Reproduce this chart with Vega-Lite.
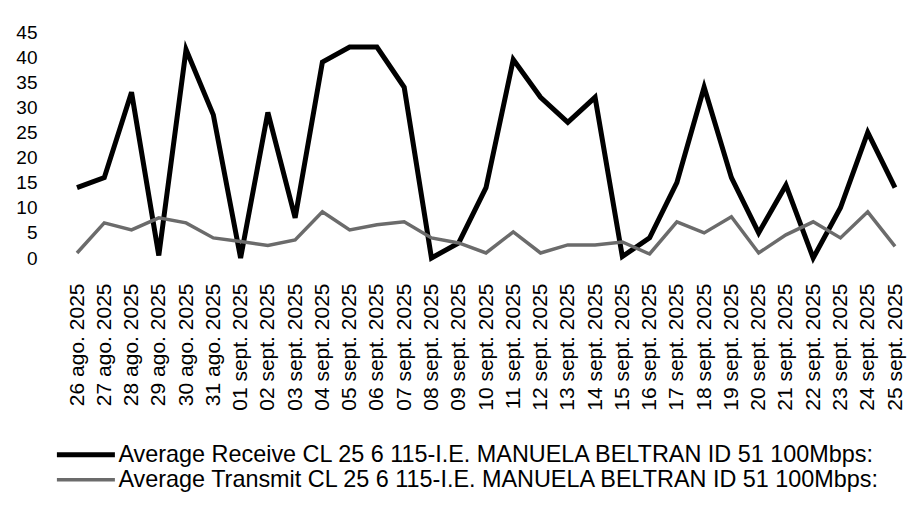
{
  "$schema": "https://vega.github.io/schema/vega-lite/v6.json",
  "autosize": "none",
  "width": 818,
  "height": 226,
  "padding": {"left": 77, "top": 32, "right": 17, "bottom": 248},
  "background": "white",
  "config": {
    "view": {"stroke": null},
    "font": "Liberation Sans",
    "axis": {"labelFont": "Liberation Sans", "labelColor": "#000"},
    "legend": {"labelFont": "Liberation Sans", "labelColor": "#000"}
  },
  "datasets": {
    "d": [
      {"date": "26 ago. 2025", "series": "Average Receive CL 25 6 115-I.E. MANUELA BELTRAN ID 51 100Mbps:", "value": 14},
      {"date": "27 ago. 2025", "series": "Average Receive CL 25 6 115-I.E. MANUELA BELTRAN ID 51 100Mbps:", "value": 16},
      {"date": "28 ago. 2025", "series": "Average Receive CL 25 6 115-I.E. MANUELA BELTRAN ID 51 100Mbps:", "value": 33},
      {"date": "29 ago. 2025", "series": "Average Receive CL 25 6 115-I.E. MANUELA BELTRAN ID 51 100Mbps:", "value": 0.5},
      {"date": "30 ago. 2025", "series": "Average Receive CL 25 6 115-I.E. MANUELA BELTRAN ID 51 100Mbps:", "value": 41.5},
      {"date": "31 ago. 2025", "series": "Average Receive CL 25 6 115-I.E. MANUELA BELTRAN ID 51 100Mbps:", "value": 28.5},
      {"date": "01 sept. 2025", "series": "Average Receive CL 25 6 115-I.E. MANUELA BELTRAN ID 51 100Mbps:", "value": 0},
      {"date": "02 sept. 2025", "series": "Average Receive CL 25 6 115-I.E. MANUELA BELTRAN ID 51 100Mbps:", "value": 29},
      {"date": "03 sept. 2025", "series": "Average Receive CL 25 6 115-I.E. MANUELA BELTRAN ID 51 100Mbps:", "value": 8},
      {"date": "04 sept. 2025", "series": "Average Receive CL 25 6 115-I.E. MANUELA BELTRAN ID 51 100Mbps:", "value": 39},
      {"date": "05 sept. 2025", "series": "Average Receive CL 25 6 115-I.E. MANUELA BELTRAN ID 51 100Mbps:", "value": 42},
      {"date": "06 sept. 2025", "series": "Average Receive CL 25 6 115-I.E. MANUELA BELTRAN ID 51 100Mbps:", "value": 42},
      {"date": "07 sept. 2025", "series": "Average Receive CL 25 6 115-I.E. MANUELA BELTRAN ID 51 100Mbps:", "value": 34},
      {"date": "08 sept. 2025", "series": "Average Receive CL 25 6 115-I.E. MANUELA BELTRAN ID 51 100Mbps:", "value": 0},
      {"date": "09 sept. 2025", "series": "Average Receive CL 25 6 115-I.E. MANUELA BELTRAN ID 51 100Mbps:", "value": 3},
      {"date": "10 sept. 2025", "series": "Average Receive CL 25 6 115-I.E. MANUELA BELTRAN ID 51 100Mbps:", "value": 14},
      {"date": "11 sept. 2025", "series": "Average Receive CL 25 6 115-I.E. MANUELA BELTRAN ID 51 100Mbps:", "value": 39.5},
      {"date": "12 sept. 2025", "series": "Average Receive CL 25 6 115-I.E. MANUELA BELTRAN ID 51 100Mbps:", "value": 32},
      {"date": "13 sept. 2025", "series": "Average Receive CL 25 6 115-I.E. MANUELA BELTRAN ID 51 100Mbps:", "value": 27},
      {"date": "14 sept. 2025", "series": "Average Receive CL 25 6 115-I.E. MANUELA BELTRAN ID 51 100Mbps:", "value": 32},
      {"date": "15 sept. 2025", "series": "Average Receive CL 25 6 115-I.E. MANUELA BELTRAN ID 51 100Mbps:", "value": 0.3},
      {"date": "16 sept. 2025", "series": "Average Receive CL 25 6 115-I.E. MANUELA BELTRAN ID 51 100Mbps:", "value": 4},
      {"date": "17 sept. 2025", "series": "Average Receive CL 25 6 115-I.E. MANUELA BELTRAN ID 51 100Mbps:", "value": 15},
      {"date": "18 sept. 2025", "series": "Average Receive CL 25 6 115-I.E. MANUELA BELTRAN ID 51 100Mbps:", "value": 34},
      {"date": "19 sept. 2025", "series": "Average Receive CL 25 6 115-I.E. MANUELA BELTRAN ID 51 100Mbps:", "value": 16},
      {"date": "20 sept. 2025", "series": "Average Receive CL 25 6 115-I.E. MANUELA BELTRAN ID 51 100Mbps:", "value": 5},
      {"date": "21 sept. 2025", "series": "Average Receive CL 25 6 115-I.E. MANUELA BELTRAN ID 51 100Mbps:", "value": 14.5},
      {"date": "22 sept. 2025", "series": "Average Receive CL 25 6 115-I.E. MANUELA BELTRAN ID 51 100Mbps:", "value": 0},
      {"date": "23 sept. 2025", "series": "Average Receive CL 25 6 115-I.E. MANUELA BELTRAN ID 51 100Mbps:", "value": 10},
      {"date": "24 sept. 2025", "series": "Average Receive CL 25 6 115-I.E. MANUELA BELTRAN ID 51 100Mbps:", "value": 25},
      {"date": "25 sept. 2025", "series": "Average Receive CL 25 6 115-I.E. MANUELA BELTRAN ID 51 100Mbps:", "value": 14},
      {"date": "26 ago. 2025", "series": "Average Transmit CL 25 6 115-I.E. MANUELA BELTRAN ID 51 100Mbps:", "value": 1},
      {"date": "27 ago. 2025", "series": "Average Transmit CL 25 6 115-I.E. MANUELA BELTRAN ID 51 100Mbps:", "value": 7},
      {"date": "28 ago. 2025", "series": "Average Transmit CL 25 6 115-I.E. MANUELA BELTRAN ID 51 100Mbps:", "value": 5.6},
      {"date": "29 ago. 2025", "series": "Average Transmit CL 25 6 115-I.E. MANUELA BELTRAN ID 51 100Mbps:", "value": 8},
      {"date": "30 ago. 2025", "series": "Average Transmit CL 25 6 115-I.E. MANUELA BELTRAN ID 51 100Mbps:", "value": 7},
      {"date": "31 ago. 2025", "series": "Average Transmit CL 25 6 115-I.E. MANUELA BELTRAN ID 51 100Mbps:", "value": 4},
      {"date": "01 sept. 2025", "series": "Average Transmit CL 25 6 115-I.E. MANUELA BELTRAN ID 51 100Mbps:", "value": 3.3},
      {"date": "02 sept. 2025", "series": "Average Transmit CL 25 6 115-I.E. MANUELA BELTRAN ID 51 100Mbps:", "value": 2.5},
      {"date": "03 sept. 2025", "series": "Average Transmit CL 25 6 115-I.E. MANUELA BELTRAN ID 51 100Mbps:", "value": 3.6},
      {"date": "04 sept. 2025", "series": "Average Transmit CL 25 6 115-I.E. MANUELA BELTRAN ID 51 100Mbps:", "value": 9.2},
      {"date": "05 sept. 2025", "series": "Average Transmit CL 25 6 115-I.E. MANUELA BELTRAN ID 51 100Mbps:", "value": 5.6},
      {"date": "06 sept. 2025", "series": "Average Transmit CL 25 6 115-I.E. MANUELA BELTRAN ID 51 100Mbps:", "value": 6.6},
      {"date": "07 sept. 2025", "series": "Average Transmit CL 25 6 115-I.E. MANUELA BELTRAN ID 51 100Mbps:", "value": 7.2},
      {"date": "08 sept. 2025", "series": "Average Transmit CL 25 6 115-I.E. MANUELA BELTRAN ID 51 100Mbps:", "value": 4},
      {"date": "09 sept. 2025", "series": "Average Transmit CL 25 6 115-I.E. MANUELA BELTRAN ID 51 100Mbps:", "value": 3},
      {"date": "10 sept. 2025", "series": "Average Transmit CL 25 6 115-I.E. MANUELA BELTRAN ID 51 100Mbps:", "value": 1},
      {"date": "11 sept. 2025", "series": "Average Transmit CL 25 6 115-I.E. MANUELA BELTRAN ID 51 100Mbps:", "value": 5.2},
      {"date": "12 sept. 2025", "series": "Average Transmit CL 25 6 115-I.E. MANUELA BELTRAN ID 51 100Mbps:", "value": 1},
      {"date": "13 sept. 2025", "series": "Average Transmit CL 25 6 115-I.E. MANUELA BELTRAN ID 51 100Mbps:", "value": 2.6},
      {"date": "14 sept. 2025", "series": "Average Transmit CL 25 6 115-I.E. MANUELA BELTRAN ID 51 100Mbps:", "value": 2.6},
      {"date": "15 sept. 2025", "series": "Average Transmit CL 25 6 115-I.E. MANUELA BELTRAN ID 51 100Mbps:", "value": 3.2},
      {"date": "16 sept. 2025", "series": "Average Transmit CL 25 6 115-I.E. MANUELA BELTRAN ID 51 100Mbps:", "value": 0.8},
      {"date": "17 sept. 2025", "series": "Average Transmit CL 25 6 115-I.E. MANUELA BELTRAN ID 51 100Mbps:", "value": 7.2},
      {"date": "18 sept. 2025", "series": "Average Transmit CL 25 6 115-I.E. MANUELA BELTRAN ID 51 100Mbps:", "value": 5},
      {"date": "19 sept. 2025", "series": "Average Transmit CL 25 6 115-I.E. MANUELA BELTRAN ID 51 100Mbps:", "value": 8.2},
      {"date": "20 sept. 2025", "series": "Average Transmit CL 25 6 115-I.E. MANUELA BELTRAN ID 51 100Mbps:", "value": 1},
      {"date": "21 sept. 2025", "series": "Average Transmit CL 25 6 115-I.E. MANUELA BELTRAN ID 51 100Mbps:", "value": 4.6},
      {"date": "22 sept. 2025", "series": "Average Transmit CL 25 6 115-I.E. MANUELA BELTRAN ID 51 100Mbps:", "value": 7.2},
      {"date": "23 sept. 2025", "series": "Average Transmit CL 25 6 115-I.E. MANUELA BELTRAN ID 51 100Mbps:", "value": 4},
      {"date": "24 sept. 2025", "series": "Average Transmit CL 25 6 115-I.E. MANUELA BELTRAN ID 51 100Mbps:", "value": 9.2},
      {"date": "25 sept. 2025", "series": "Average Transmit CL 25 6 115-I.E. MANUELA BELTRAN ID 51 100Mbps:", "value": 2.3}
    ]
  },
  "data": {"name": "d"},
  "mark": {"type": "line", "strokeJoin": "miter"},
  "encoding": {
    "x": {
      "field": "date", "type": "nominal", "sort": null,
      "scale": {"type": "point", "padding": 0},
      "axis": {"title": null, "domain": false, "ticks": false, "tickSize": 0, "grid": false,
               "labelAngle": -90, "labelPadding": 25, "labelFontSize": 21, "labelAlign": "right", "labelBaseline": "middle"}
    },
    "y": {
      "field": "value", "type": "quantitative",
      "scale": {"domain": [0, 45], "nice": false, "zero": true},
      "axis": {"title": null, "domain": false, "ticks": false, "tickSize": 0, "grid": false,
               "values": [0, 5, 10, 15, 20, 25, 30, 35, 40, 45], "labelPadding": 40, "labelFontSize": 19}
    },
    "color": {
      "field": "series", "type": "nominal", "sort": null,
      "scale": {"range": ["#000000", "#6b6b6b"]},
      "legend": {"title": null, "orient": "none", "legendX": -26, "legendY": 411,
                 "symbolType": "M-1,0H9", "symbolSize": 134.56, "symbolStrokeWidth": 5,
                 "labelFontSize": 23.4, "labelOffset": 44, "rowPadding": 0, "labelLimit": 900, "padding": 0}
    },
    "strokeWidth": {
      "field": "series", "type": "nominal", "sort": null,
      "scale": {"range": [5, 3.5]},
      "legend": {"title": null, "orient": "none", "legendX": -26, "legendY": 411,
                 "symbolType": "M-1,0H9", "symbolSize": 134.56,
                 "labelFontSize": 23.4, "labelOffset": 44, "rowPadding": 0, "labelLimit": 900, "padding": 0}
    }
  }
}
